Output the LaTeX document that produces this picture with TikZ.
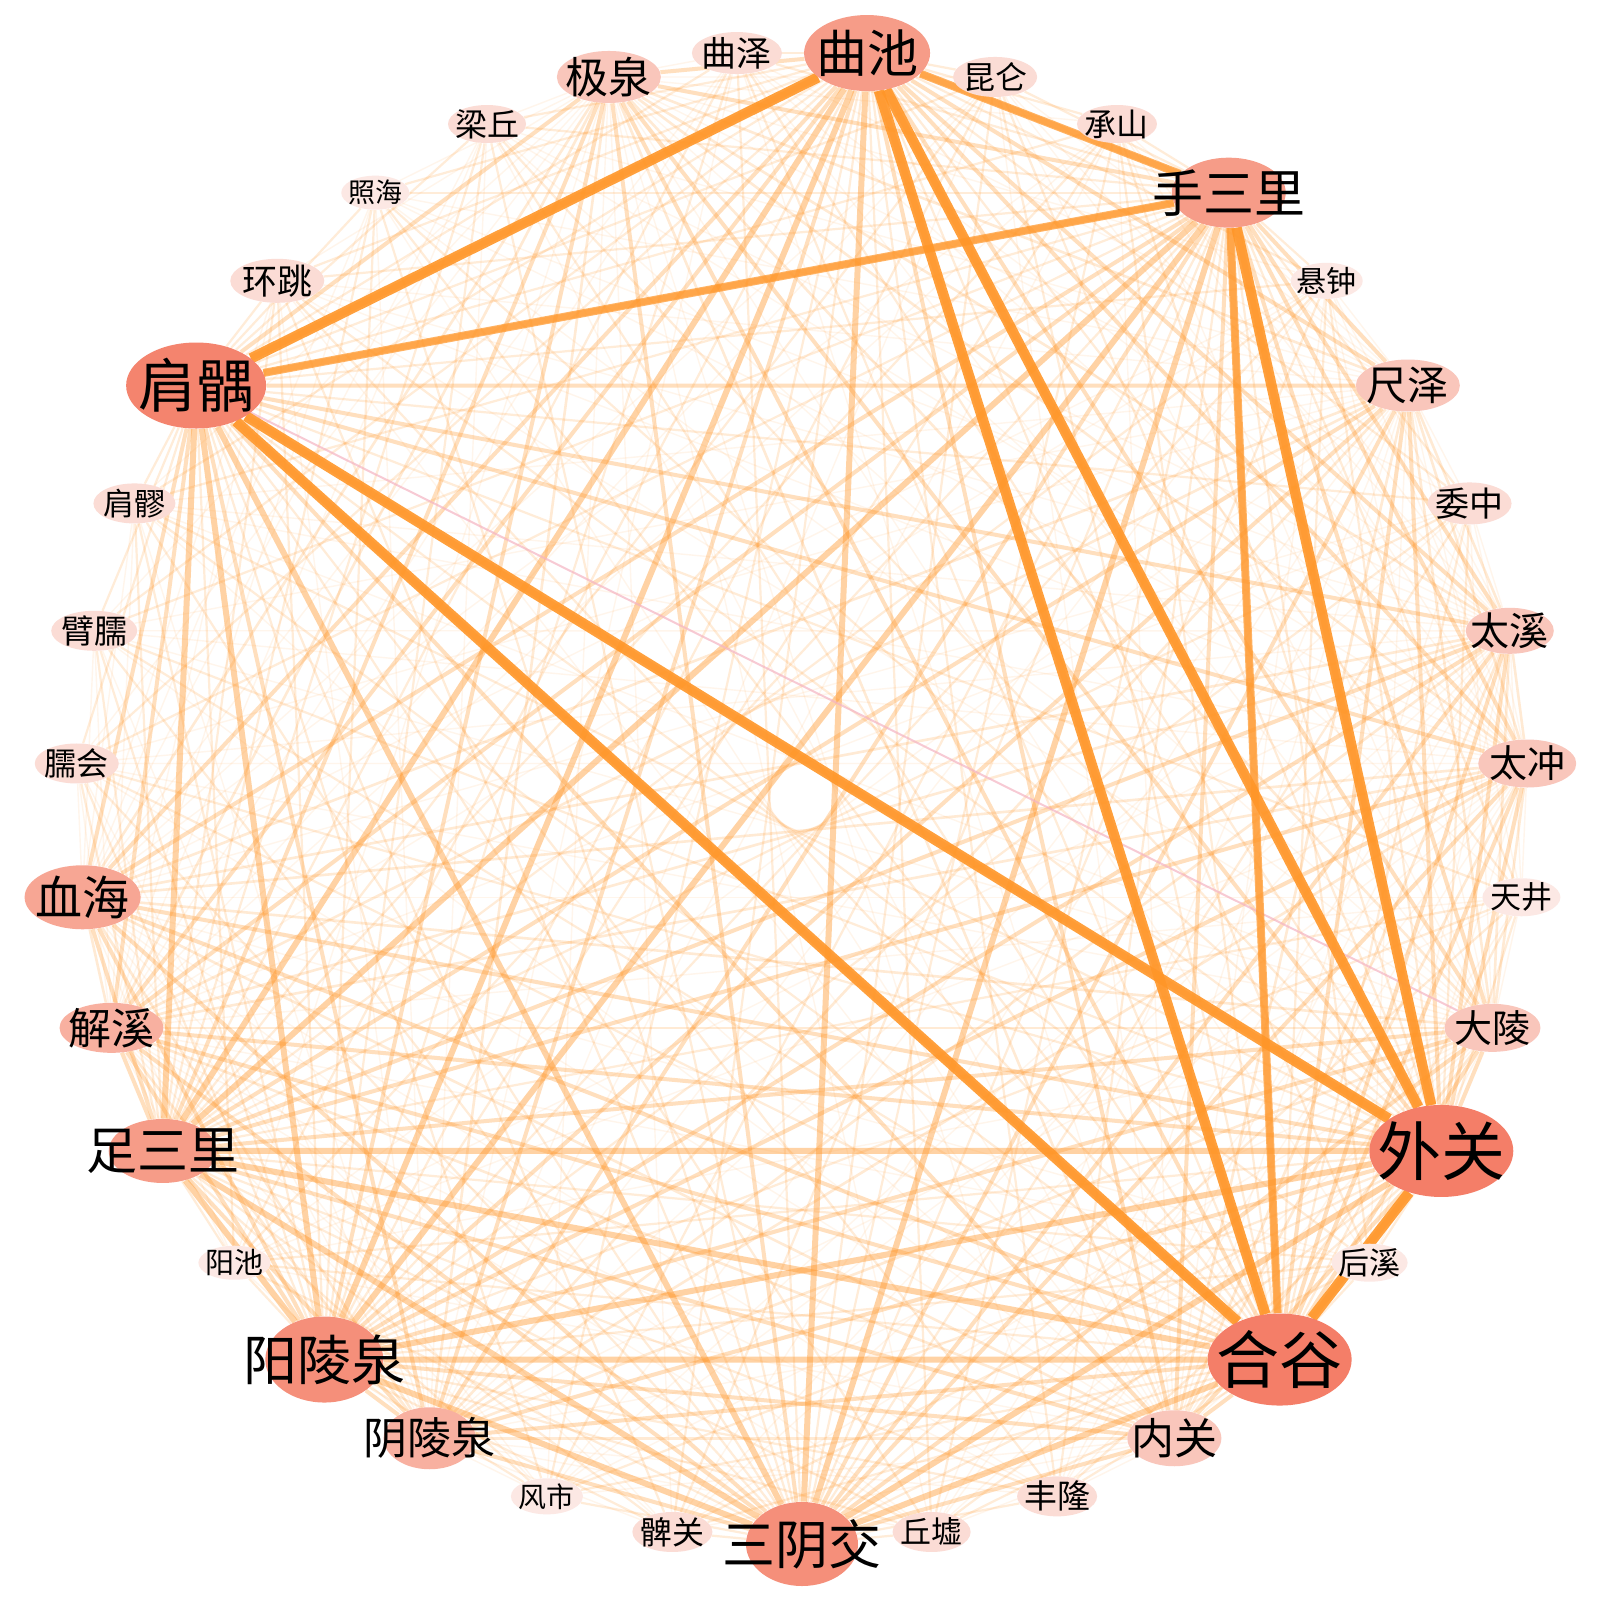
\documentclass[tikz,border=0pt]{standalone}
\usepackage{fontspec}
\newfontfamily\cjk{Noto Sans CJK SC}
\usetikzlibrary{shapes.geometric}
\pgfdeclarelayer{bg}
\pgfsetlayers{bg,main}
\definecolor{edgeor}{RGB}{255,150,40}
\definecolor{pinkline}{RGB}{245,180,195}
\definecolor{cA}{RGB}{244,126,104}
\definecolor{cB}{RGB}{244,132,110}
\definecolor{cC}{RGB}{245,143,122}
\definecolor{cD}{RGB}{246,156,136}
\definecolor{cE}{RGB}{247,166,148}
\definecolor{cF}{RGB}{248,176,160}
\definecolor{cG}{RGB}{249,198,187}
\definecolor{cH}{RGB}{251,220,213}
\definecolor{cI}{RGB}{252,232,228}
\tikzset{
  acu/.style={ellipse, inner sep=0pt, draw=none},
  lab/.style={text=black, inner sep=0pt},
  heavyedge/.style={draw=edgeor, line width=5.2pt, opacity=0.9},
  strongedge/.style={draw=edgeor, line width=4pt, opacity=0.72},
  lledge/.style={draw=edgeor, line width=3pt, opacity=0.42},
  lmedge/.style={draw=edgeor, line width=2pt, opacity=0.3},
  mmedge/.style={draw=edgeor, line width=1.3pt, opacity=0.2},
  lsedge/.style={draw=edgeor, line width=1.1pt, opacity=0.18},
  msedge/.style={draw=edgeor, line width=0.7pt, opacity=0.09},
  pinkedge/.style={draw=pinkline, line width=1pt, opacity=0.7}
}
\begin{document}
\begin{tikzpicture}[x=0.5pt,y=-0.5pt]
\useasboundingbox (0,0) rectangle (1600,1600);
\foreach \i/\t/\fs/\w/\h/\c in {
0/三阴交/26.5/112/84/cC,
1/丘墟/15.5/78/40/cH,
2/丰隆/16.5/80/40/cH,
3/内关/21.5/94/56/cG,
4/合谷/31.5/144/92/cA,
5/后溪/15.5/76/38/cI,
6/外关/32/144/92/cA,
7/大陵/19/96/48/cG,
8/天井/15.5/78/38/cI,
9/太冲/19/98/48/cG,
10/太溪/19.5/88/46/cG,
11/委中/17/84/42/cH,
12/尺泽/20.5/104/52/cG,
13/悬钟/15/72/36/cI,
14/手三里/25.5/114/70/cD,
15/承山/16/80/38/cH,
16/昆仑/16/84/40/cH,
17/曲池/25.5/126/76/cD,
18/曲泽/17.5/90/42/cH,
19/极泉/21.5/104/52/cG,
20/梁丘/16/78/38/cH,
21/照海/13.5/68/34/cI,
22/环跳/17.5/94/44/cH,
23/肩髃/29/140/86/cB,
24/肩髎/15.5/82/40/cH,
25/臂臑/16.5/86/40/cH,
26/臑会/16/84/40/cH,
27/血海/23.5/116/64/cE,
28/解溪/21.5/104/50/cF,
29/足三里/25.5/108/64/cD,
30/阳池/14.5/72/34/cI,
31/阳陵泉/27/118/86/cC,
32/阴陵泉/22/92/62/cF,
33/风市/14/72/36/cI,
34/髀关/16/80/40/cH}{
  \pgfmathsetmacro\ang{-90+\i*360/35}
  \node[acu, fill=\c, minimum width=\w*0.5pt, minimum height=\h*0.5pt] (n\i) at ({802+726*cos(\ang)},{797-747*sin(\ang)}) {};
  \node[lab, font=\cjk\fontsize{\fs pt}{\fs pt}\selectfont] (t\i) at (n\i) {\t};
}
\begin{pgfonlayer}{bg}
  \fill[white] (0,0) rectangle (1600,1600);
  % medium to small
  \foreach \a in {27,32,28,19,12,3,9,7,10}{
    \foreach \b in {1,2,5,8,11,13,15,16,18,20,21,22,24,25,26,30,33,34}{
      \draw[msedge] (n\a) -- (n\b);
    }
  }
  % large to small
  \foreach \a in {4,6,23,17,14,31,0,29}{
    \foreach \b in {1,2,5,8,11,13,15,16,18,20,21,22,24,25,26,30,33,34}{
      \draw[lsedge] (n\a) -- (n\b);
    }
  }
  % medium to medium
  \foreach \a in {27,32,28,19,12,3,9,7,10}{
    \foreach \b in {27,32,28,19,12,3,9,7,10}{
      \ifnum\a<\b \draw[mmedge] (n\a) -- (n\b); \fi
    }
  }
  % large to medium
  \foreach \a in {4,6,23,17,14,31,0,29}{
    \foreach \b in {27,32,28,19,12,3,9,7,10}{
      \ifnum\numexpr\a*100+\b\relax=2307 \else \draw[lmedge] (n\a) -- (n\b); \fi
    }
  }
  % large to large
  \foreach \a in {4,6,23,17,14,31,0,29}{
    \foreach \b in {4,6,23,17,14,31,0,29}{
      \ifnum\a<\b \draw[lledge] (n\a) -- (n\b); \fi
    }
  }
  \draw[pinkedge] (n23) -- (n7);
  % strongest connections
  \draw[strongedge] (n17) -- (n14);
  \draw[strongedge] (n23) -- (n14);
  \draw[strongedge] (n14) -- (n4);
  \draw[heavyedge] (n14) -- (n6);
  \draw[heavyedge] (n17) -- (n23);
  \draw[heavyedge] (n17) -- (n4);
  \draw[heavyedge] (n17) -- (n6);
  \draw[heavyedge] (n23) -- (n4);
  \draw[heavyedge] (n23) -- (n6);
  \draw[heavyedge] (n6) -- (n4);
\end{pgfonlayer}
\end{tikzpicture}
\end{document}
